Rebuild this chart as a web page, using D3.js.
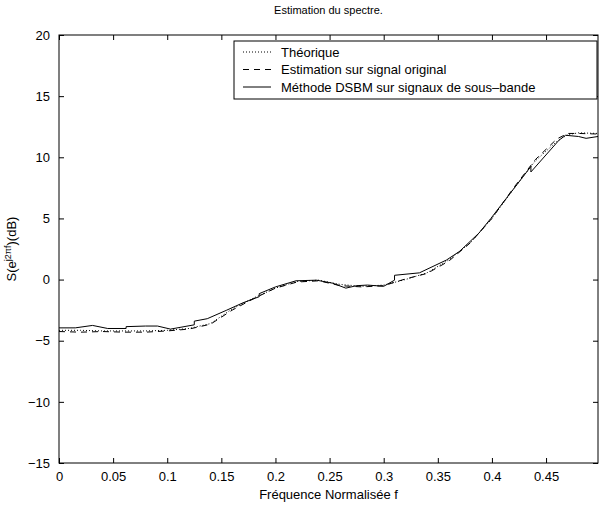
<!DOCTYPE html>
<html>
<head>
    <meta charset="utf-8">
    <title>Estimation du spectre</title>
    <style type="text/css">
        body { margin: 0; background: #fff; }
        svg text { font-family: "Liberation Sans", Arial, sans-serif; fill: #000; }
    </style>
</head>
<body>
<div id="chart"></div>
<script src="https://cdn.jsdelivr.net/npm/d3@7"></script>
<script type="text/javascript">
    // grille de fréquences commune (théorique + estimation)
    var freqs = [0, 0.02, 0.04, 0.06, 0.08, 0.10, 0.12, 0.14, 0.16, 0.18, 0.20, 0.22, 0.24, 0.26,
        0.28, 0.30, 0.32, 0.34, 0.36, 0.38, 0.40, 0.42, 0.44, 0.46, 0.47, 0.48, 0.498];
    var theorique = [-4.15, -4.15, -4.2, -4.2, -4.2, -4.15, -4.0, -3.6, -2.4, -1.5, -0.7, -0.15, -0.05, -0.4,
        -0.55, -0.45, 0.0, 0.55, 1.6, 3.0, 5.0, 7.4, 9.7, 11.3, 11.85, 12.0, 11.95];
    var estimation = [-4.25, -4.3, -4.25, -4.3, -4.3, -4.2, -4.05, -3.65, -2.5, -1.55, -0.7, -0.2, -0.1, -0.5,
        -0.6, -0.5, 0.05, 0.5, 1.5, 3.0, 5.0, 7.5, 9.8, 11.5, 11.95, 11.95, 11.9];

    // méthode DSBM : les fréquences répétées donnent les sauts
    var freqsDSBM = [0, 0.015, 0.031, 0.045, 0.062, 0.062, 0.08, 0.091, 0.103, 0.125, 0.125, 0.137, 0.155,
        0.17, 0.185, 0.185, 0.2, 0.219, 0.238, 0.253, 0.265, 0.275, 0.285, 0.3, 0.31, 0.31, 0.333, 0.358,
        0.37, 0.388, 0.399, 0.436, 0.436, 0.462, 0.468, 0.48, 0.487, 0.498];
    var dsbm = [-3.95, -3.95, -3.75, -4.0, -4.0, -3.85, -3.8, -3.8, -4.05, -3.7, -3.4, -3.2, -2.5,
        -1.9, -1.4, -1.15, -0.6, -0.1, -0.05, -0.3, -0.7, -0.5, -0.45, -0.55, -0.05, 0.35, 0.55, 1.6,
        2.3, 3.8, 5.0, 9.25, 8.8, 11.4, 11.8, 11.7, 11.55, 11.7];

    var xTicks = [0, 0.05, 0.1, 0.15, 0.2, 0.25, 0.3, 0.35, 0.4, 0.45];
    var xTickLabels = ["0", "0.05", "0.1", "0.15", "0.2", "0.25", "0.3", "0.35", "0.4", "0.45"];
    var yTicks = [-15, -10, -5, 0, 5, 10, 15, 20];

    var legendLabels = ["Théorique", "Estimation sur signal original", "Méthode DSBM sur signaux de sous\u2013bande"];
    var legendDash = ["1,2", "6,5", null];

    var W = 600, H = 507;
    var mL = 59, mR = 598, mT = 35, mB = 463;

    var svg = d3.select('#chart')
        .append('svg')
        .attr('width', W)
        .attr('height', H);

    var x = d3.scaleLinear().domain([0, 0.498]).range([mL, mR]);
    var y = d3.scaleLinear().domain([-15, 20]).range([mB, mT]);

    // axes (ticks vers l'intérieur, style matlab)
    var fmtY = function (d) { return d < 0 ? "\u2212" + Math.abs(d) : String(d); };

    svg.append('g')
        .attr('transform', 'translate(0,' + mB + ')')
        .call(d3.axisBottom(x).tickValues(xTicks).tickSizeInner(-5).tickSizeOuter(0).tickPadding(9)
            .tickFormat(function (d, i) { return xTickLabels[i]; }))
        .call(function (g) { g.select('.domain').remove(); });

    svg.append('g')
        .attr('transform', 'translate(0,' + mT + ')')
        .call(d3.axisTop(x).tickValues(xTicks).tickSizeInner(-5).tickSizeOuter(0).tickFormat(''))
        .call(function (g) { g.select('.domain').remove(); });

    svg.append('g')
        .attr('transform', 'translate(' + mL + ',0)')
        .call(d3.axisLeft(y).tickValues(yTicks).tickSizeInner(-5).tickSizeOuter(0).tickPadding(9)
            .tickFormat(fmtY))
        .call(function (g) { g.select('.domain').remove(); });

    svg.append('g')
        .attr('transform', 'translate(' + mR + ',0)')
        .call(d3.axisRight(y).tickValues(yTicks).tickSizeInner(-5).tickSizeOuter(0).tickFormat(''))
        .call(function (g) { g.select('.domain').remove(); });

    svg.selectAll('.tick text').style('font-size', '13px').style('font-family', '"Liberation Sans", Arial, sans-serif');
    svg.selectAll('.tick line').attr('stroke', '#000');

    // courbes
    var line = d3.line()
        .x(function (d) { return x(d[0]); })
        .y(function (d) { return y(d[1]); });

    var series = [
        { pts: d3.zip(freqs, theorique), dash: legendDash[0] },
        { pts: d3.zip(freqs, estimation), dash: legendDash[1] },
        { pts: d3.zip(freqsDSBM, dsbm), dash: legendDash[2] }
    ];

    svg.selectAll('path.serie')
        .data(series)
        .enter()
        .append('path')
        .attr('class', 'serie')
        .attr('d', function (d) { return line(d.pts); })
        .attr('fill', 'none')
        .attr('stroke', '#000')
        .attr('stroke-width', 1)
        .attr('stroke-dasharray', function (d) { return d.dash; });

    // cadre
    svg.append('rect')
        .attr('x', mL).attr('y', mT)
        .attr('width', mR - mL).attr('height', mB - mT)
        .attr('fill', 'none').attr('stroke', '#000').attr('stroke-width', 1);

    // légende
    var lg = svg.append('g').attr('transform', 'translate(234,41)');
    lg.append('rect')
        .attr('x', 0).attr('y', 0).attr('width', 363).attr('height', 58)
        .attr('fill', '#fff').attr('stroke', '#000').attr('stroke-width', 1);

    legendLabels.forEach(function (t, i) {
        var yy = 11 + i * 17.5;
        lg.append('line')
            .attr('x1', 9).attr('x2', 37).attr('y1', yy).attr('y2', yy)
            .attr('stroke', '#000').attr('stroke-width', 1)
            .attr('stroke-dasharray', legendDash[i]);
        lg.append('text')
            .attr('x', 47).attr('y', yy + 4.5)
            .style('font-size', '13px')
            .text(t);
    });

    // titres
    svg.append('text')
        .attr('x', (mL + mR) / 2).attr('y', 14)
        .attr('text-anchor', 'middle')
        .style('font-size', '11px')
        .text('Estimation du spectre.');

    svg.append('text')
        .attr('x', (mL + mR) / 2).attr('y', 499)
        .attr('text-anchor', 'middle')
        .style('font-size', '13px')
        .text('Fréquence Normalisée f');

    var yl = svg.append('text')
        .attr('transform', 'translate(16,' + ((mT + mB) / 2) + ') rotate(-90)')
        .attr('text-anchor', 'middle')
        .style('font-size', '13px');
    yl.append('tspan').text('S(e');
    yl.append('tspan').attr('dy', -5).style('font-size', '9px').text('j2\u03c0f');
    yl.append('tspan').attr('dy', 5).text(')(dB)');
</script>
</body>
</html>
